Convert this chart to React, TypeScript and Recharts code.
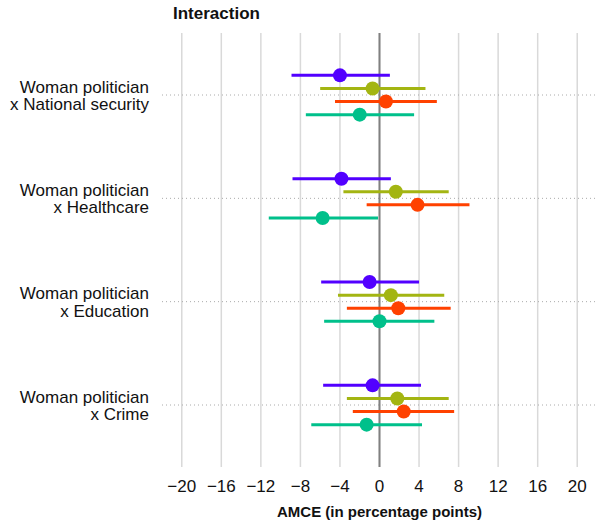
import {
  CartesianGrid,
  ErrorBar,
  ReferenceLine,
  Scatter,
  ScatterChart,
  XAxis,
  YAxis,
} from "recharts";

// Four interaction terms, top to bottom.
const GROUPS = ["National security", "Healthcare", "Education", "Crime"];
const X_TICKS = [-20, -16, -12, -8, -4, 0, 4, 8, 12, 16, 20];

// AMCE estimates and 95% CI bounds per sub-sample, one value per group.
const PURPLE_EST = [-4.0, -3.85, -1.0, -0.7];
const PURPLE_LOW = [-8.9, -8.8, -5.9, -5.7];
const PURPLE_HIGH = [1.05, 1.15, 4.0, 4.2];

const OLIVE_EST = [-0.7, 1.65, 1.15, 1.8];
const OLIVE_LOW = [-6.0, -3.65, -4.2, -3.3];
const OLIVE_HIGH = [4.65, 7.0, 6.55, 7.0];

const ORANGE_EST = [0.65, 3.85, 1.9, 2.45];
const ORANGE_LOW = [-4.5, -1.3, -3.3, -2.7];
const ORANGE_HIGH = [5.8, 9.1, 7.2, 7.55];

const TEAL_EST = [-2.0, -5.75, 0.0, -1.3];
const TEAL_LOW = [-7.45, -11.2, -5.6, -6.9];
const TEAL_HIGH = [3.5, -0.15, 5.55, 4.3];

const FONT = "'Liberation Sans', Arial, Helvetica, sans-serif";

// vertical dodge of the four estimates inside a group
const DODGE = [-0.19, -0.063, 0.063, 0.19];

const SERIES = [
  { name: "a", color: "#5200ff", est: PURPLE_EST, low: PURPLE_LOW, high: PURPLE_HIGH },
  { name: "b", color: "#a3b512", est: OLIVE_EST, low: OLIVE_LOW, high: OLIVE_HIGH },
  { name: "c", color: "#ff4100", est: ORANGE_EST, low: ORANGE_LOW, high: ORANGE_HIGH },
  { name: "d", color: "#00c08b", est: TEAL_EST, low: TEAL_LOW, high: TEAL_HIGH },
];

function rows(s: (typeof SERIES)[number], i: number) {
  return GROUPS.map((_, g) => ({
    x: s.est[g],
    y: g + 1 + DODGE[i],
    err: [s.est[g] - s.low[g], s.high[g] - s.est[g]],
  }));
}

function GroupTick(props: any) {
  const { x, y, payload } = props;
  const label = GROUPS[payload.value - 1];
  return (
    <text x={x} y={y} textAnchor="end" fontFamily={FONT} fontSize={17} fill="#111">
      <tspan x={x} dy={-2.5}>Woman politician</tspan>
      <tspan x={x} dy={17.5}>x {label}</tspan>
    </text>
  );
}

export default function App() {
  return (
    <div style={{ position: "absolute", left: 0, top: 0, width: 598, height: 525, background: "#fff" }}>
      <div
        style={{
          position: "absolute",
          left: 173,
          top: 5,
          fontFamily: FONT,
          fontWeight: "bold",
          fontSize: 17,
          lineHeight: "17px",
          color: "#111",
        }}
      >
        Interaction
      </div>
      <ScatterChart width={598} height={525} margin={{ top: 33, right: 1, bottom: 0, left: 0 }}>
        <CartesianGrid horizontal={false} syncWithTicks stroke="#d9d9d9" strokeWidth={1.5} />
        <CartesianGrid vertical={false} syncWithTicks stroke="#aaa" strokeDasharray="1 3" />
        <XAxis
          type="number"
          dataKey="x"
          domain={[-22, 22]}
          ticks={X_TICKS}
          tickFormatter={(v: number) => String(v).replace("-", "\u2212")}
          axisLine={false}
          tickLine={false}
          tickSize={0}
          tickMargin={13}
          height={58}
          tick={{ fontFamily: FONT, fontSize: 17, fill: "#111" }}
          label={{
            value: "AMCE (in percentage points)",
            position: "insideBottom",
            offset: 8,
            style: { fontFamily: FONT, fontSize: 15, fontWeight: "bold", fill: "#111" },
          }}
        />
        <YAxis
          type="number"
          dataKey="y"
          domain={[0.4, 4.6]}
          reversed
          ticks={[1, 2, 3, 4]}
          width={162}
          axisLine={false}
          tickLine={false}
          tickSize={0}
          tickMargin={13}
          tick={<GroupTick />}
        />
        <ReferenceLine x={0} stroke="#808080" strokeWidth={2} />
        {SERIES.map((s, i) => (
          <Scatter
            key={s.name}
            data={rows(s, i)}
            fill={s.color}
            isAnimationActive={false}
            shape={(p: any) => <circle cx={p.cx} cy={p.cy} r={7} fill={s.color} />}
          >
            <ErrorBar dataKey="err" direction="x" width={0} stroke={s.color} strokeWidth={3} />
          </Scatter>
        ))}
      </ScatterChart>
    </div>
  );
}
